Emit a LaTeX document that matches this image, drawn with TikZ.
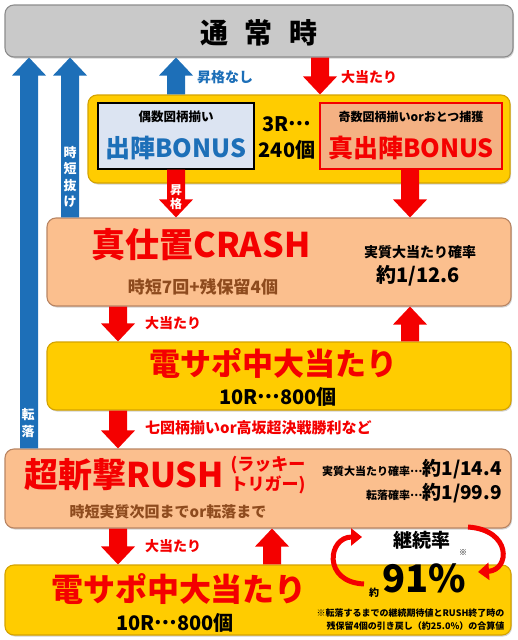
\documentclass[tikz,border=0pt]{standalone}
\usepackage{fontspec}
\setmainfont{Noto Sans CJK JP}
\usepackage{xcolor}
\usepackage{tikz}
\usetikzlibrary{arrows.meta,calc,shadows}
\definecolor{cGray}{HTML}{C9C9C9}
\definecolor{cGrayD}{HTML}{8C8C8C}
\definecolor{cGold}{HTML}{FFCC00}
\definecolor{cGoldD}{HTML}{D4A300}
\definecolor{cPeach}{HTML}{FBBF8E}
\definecolor{cPeachD}{HTML}{B98563}
\definecolor{cIce}{HTML}{DCE4F2}
\definecolor{cOrng}{HTML}{F4B183}
\definecolor{cBlue}{HTML}{1D6FB8}
\definecolor{cRed}{HTML}{F40000}
\definecolor{cBrown}{HTML}{8E4B1E}
\newcommand\fz[1]{\fontsize{#1}{#1}\selectfont\bfseries}
\newcommand\mdots{\raisebox{0.3em}{…}}
% block arrow: colour, tail point, tip point
\newcommand\blockarr[3]{%
  \fill[#1] let \p1=(#2),\p2=(#3),\n1={sign(\y2-\y1)} in
    (\x1-9pt,\y1) -- (\x1-9pt,\y2-\n1*18pt) -- (\x1-17pt,\y2-\n1*18pt) -- (\x1,\y2)
    -- (\x1+17pt,\y2-\n1*18pt) -- (\x1+9pt,\y2-\n1*18pt) -- (\x1+9pt,\y1) -- cycle;}
\tikzset{
  boxbase/.style={rounded corners=9pt,line width=1.1pt,inner sep=0pt,
    drop shadow={shadow xshift=1pt,shadow yshift=-1.5pt,opacity=0.35}},
  gbox/.style={boxbase,draw=cGrayD,fill=cGray},
  ybox/.style={boxbase,draw=cGoldD,fill=cGold},
  pbox/.style={boxbase,draw=cPeachD,fill=cPeach},
  ibox/.style={draw=#1,line width=1.3pt,inner sep=0pt},
  carr/.style={cRed,line width=5pt,-{Triangle[length=11pt,width=17pt]}},
  lbl/.style={font=\fz{14},text=cRed,anchor=west,inner sep=0pt},
  vlbl/.style={font=\fontsize{13}{16.5}\selectfont\bfseries,text=white,align=center,inner sep=0pt},
}
\begin{document}
\begin{tikzpicture}[x=1pt,y=-1pt]
  \useasboundingbox (0,0) rectangle (518,640);
  % boxes
  \node[gbox,minimum width=508,minimum height=52] (top) at (259,31) {};
  \node[font=\fz{28}] (topt) at (259,33) {通\hspace{17pt}常\hspace{17pt}時};
  \node[ybox,minimum width=422,minimum height=88] (bonus) at (299,139) {};
  \node[ibox=black,fill=cIce,minimum width=156,minimum height=66] (even) at (176,136) {};
  \node[ibox=cRed,fill=cOrng,minimum width=182,minimum height=66] (odd) at (411,136) {};
  \node[pbox,minimum width=464,minimum height=88] (crash) at (279,262) {};
  \node[ybox,minimum width=464,minimum height=68] (den1) at (279,376) {};
  \node[pbox,minimum width=506,minimum height=79] (rush) at (258,488.5) {};
  \node[ybox,minimum width=506,minimum height=70] (den2) at (258,600) {};

  % columns
  \coordinate (c1) at (29,0);
  \coordinate (c2) at (70,0);
  \coordinate (c3) at (176,0);
  \coordinate (c4) at (320,0);
  \coordinate (c5) at (410,0);
  \coordinate (c6) at (118,0);
  \coordinate (c7) at (272,0);

  % blue arrows
  \blockarr{cBlue}{c1 |- rush.north}{c1 |- top.south}
  \blockarr{cBlue}{c2 |- crash.north}{c2 |- top.south}
  \blockarr{cBlue}{c3 |- bonus.north}{c3 |- top.south}
  \node[vlbl] (tenraku) at (28,423) {転\\落};
  \node[vlbl] (jitan) at (70,177) {時\\短\\抜\\け};

  % red arrows
  \blockarr{cRed}{c4 |- top.south}{c4 |- bonus.north}
  \blockarr{cRed}{c3 |- even.south}{c3 |- crash.north}
  \blockarr{cRed}{c5 |- odd.south}{c5 |- crash.north}
  \blockarr{cRed}{c6 |- crash.south}{c6 |- den1.north}
  \blockarr{cRed}{c5 |- den1.north}{c5 |- crash.south}
  \blockarr{cRed}{c6 |- den1.south}{c6 |- rush.north}
  \blockarr{cRed}{c6 |- rush.south}{c6 |- den2.north}
  \blockarr{cRed}{c7 |- den2.north}{c7 |- rush.south}
  \node[vlbl,font=\fontsize{12}{14}\selectfont\bfseries] (shokaku) at (176,197) {昇\\格};

  % arrow labels
  \node[lbl,text=cBlue] (nashi) at (197,77) {昇格なし};
  \node[lbl] (hit1) at (341,77) {大当たり};
  \node[lbl] (hit2) at (145,323) {大当たり};
  \node[lbl,font=\fz{15}] (seven) at (145,428) {七図柄揃いor高坂超決戦勝利など};
  \node[lbl] (hit3) at (145,546) {大当たり};

  % bonus texts
  \node[font=\fz{12.5}] (evens) at (176,117) {偶数図柄揃い};
  \node[font=\fz{25},text=cBlue] (event) at (176,148) {出陣BONUS};
  \node[font=\fontsize{20}{26}\selectfont\bfseries,align=center] (rounds) at (287,138) {3R\mdots\\240個};
  \node[font=\fz{12}] (odds) at (411,117) {奇数図柄揃いorおとつ捕獲};
  \node[font=\fz{25},text=cRed] (oddt) at (411,148) {真出陣BONUS};

  % crash texts
  \node[font=\fz{34},text=cRed] (crasht) at (201,245) {真仕置CRASH};
  \node[font=\fz{17},text=cBrown] (crashs) at (203,287) {時短7回+残保留4個};
  \node[font=\fz{14}] (crashp) at (420,252) {実質大当たり確率};
  \node[font=\fz{20}] (crashv) at (418,276) {約1/12.6};

  % den texts
  \node[font=\fz{31},text=cRed] (den1t) at (273,363) {電サポ中大当たり};
  \node[font=\fz{20}] (den1s) at (278,397) {10R\mdots800個};
  \node[font=\fz{32},text=cRed] (den2t) at (179,589) {電サポ中大当たり};
  \node[font=\fz{20}] (den2s) at (175,623) {10R\mdots800個};

  % rush texts
  \node[font=\fz{34},text=cRed] (rusht) at (124,475) {超斬撃RUSH};
  \node[font=\fontsize{17}{20}\selectfont\bfseries,text=cRed,align=center] (lucky) at (268,475) {(ラッキー\\トリガー)};
  \node[anchor=east,inner sep=0pt] (rushp) at (502,469) {\fz{11}実質大当たり確率\mdots\fz{19}約1/14.4};
  \node[anchor=east,inner sep=0pt] (rushf) at (502,493) {\fz{11}転落確率\mdots\fz{19}約1/99.9};
  \node[font=\fz{15},text=cBrown] (rushs) at (168,512) {時短実質次回までor転落まで};

  % continuation rate
  \node[font=\fz{19}] (keizoku) at (422,540) {継続率};
  \node[font=\fz{10},inner sep=0pt] (yaku) at (374,593) {約};
  \node[font=\fz{38},inner sep=0pt] (rate) at (424,578) {91\%};
  \node[font=\fz{8},inner sep=0pt] (kome) at (463,553) {※};
  \node[font=\fontsize{9}{13}\selectfont\bfseries,align=right,anchor=east] (note) at (508,620)
    {※転落するまでの継続期待値とRUSH終了時の\\残保留4個の引き戻し（約25.0\%）の合算値};
  \coordinate (la) at (364,584);
  \coordinate (lb) at (362,537);
  \coordinate (ra) at (468,527);
  \coordinate (rb) at (478,572);
  \draw[carr] (la) .. controls (322,582) and (328,537) .. (lb);
  \draw[carr] (ra) .. controls (512,530) and (510,570) .. (rb);
\end{tikzpicture}
\end{document}
